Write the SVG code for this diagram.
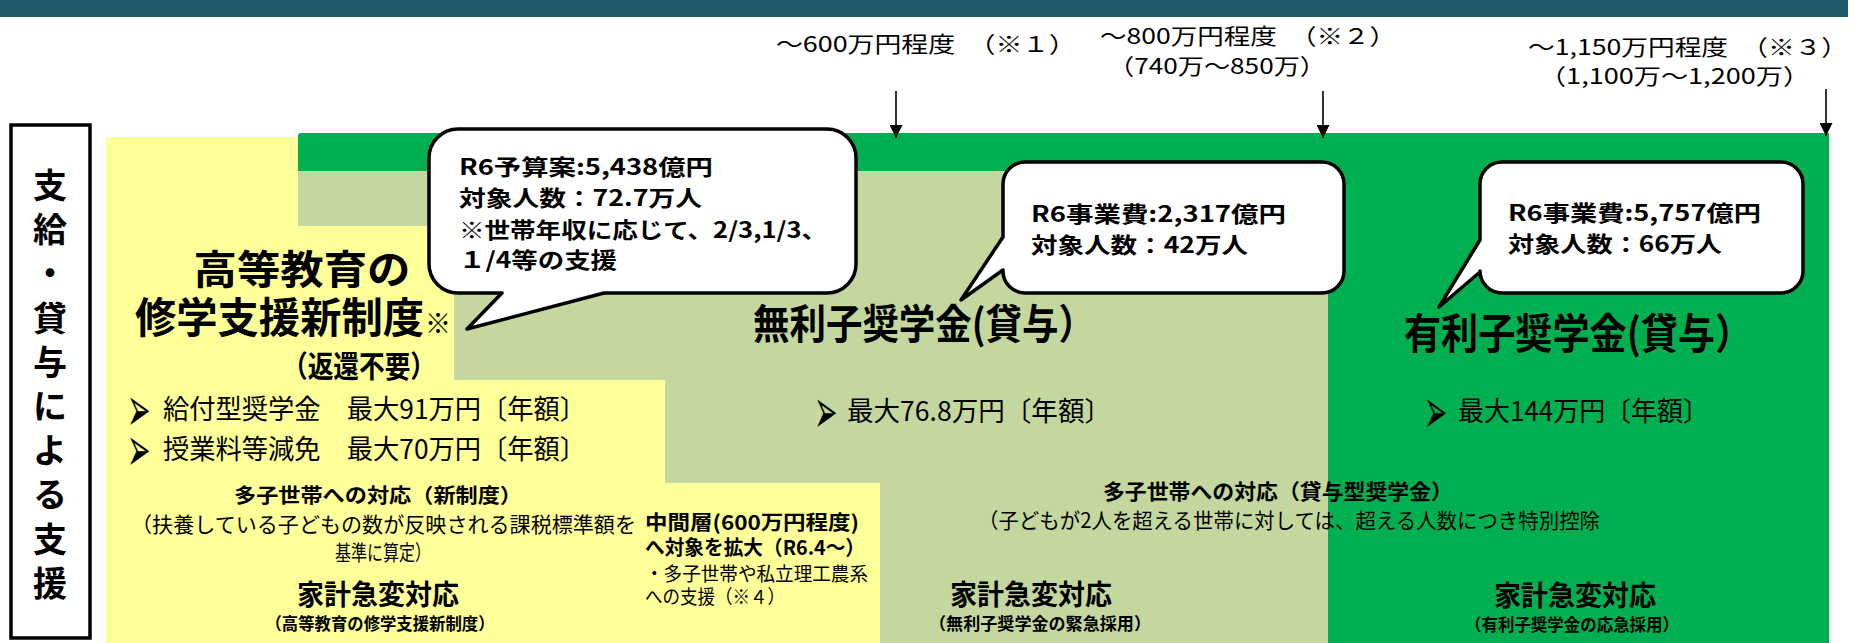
<svg xmlns="http://www.w3.org/2000/svg" width="1865" height="643" viewBox="0 0 1865 643">
<defs>
<style>
text{font-family:"Noto Sans CJK JP","Noto Sans",sans-serif;fill:#000}
.b{font-weight:bold}
.bub{fill:#fff;stroke:#000;stroke-width:3.5;stroke-linejoin:round}
.arr{stroke:#000;stroke-width:1.6;fill:none}
.bul{font-family:"DejaVu Sans",sans-serif;font-size:42px}
.lbl{font-size:22px}
.bt{font-size:22px;font-weight:bold}
</style>
<marker id="ah" viewBox="0 0 10 10" refX="10" refY="5" markerUnits="userSpaceOnUse" markerWidth="16" markerHeight="13" orient="auto">
<path d="M0,0 L10,5 L0,10 Z" fill="#000"/>
</marker>
</defs>
<rect x="0" y="0" width="1848" height="17" fill="#235a6b"/>

<g id="light-green-area">
<rect x="298" y="171" width="1030" height="472" fill="#c4d79e"/>
</g>
<g id="dark-green-area">
<path d="M301,133 H1829 V643 H1328 V171 H298 V136 Q298,133 301,133 Z" fill="#00b050"/>
</g>
<g id="yellow-area">
<path d="M106,137 H298 V226 H454 V380 H665 V483 H880 V643 H106 Z" fill="#ffff99"/>
</g>

<g id="side-label">
<rect x="11" y="125" width="79" height="513" fill="#fff" stroke="#000" stroke-width="3.5"/>
<text class="b" font-size="34" text-anchor="middle">
<tspan x="50" y="198">支</tspan><tspan x="50" y="242">給</tspan><tspan x="50" y="286">・</tspan><tspan x="50" y="331">貸</tspan><tspan x="50" y="375">与</tspan><tspan x="50" y="419">に</tspan><tspan x="50" y="463">よ</tspan><tspan x="50" y="507">る</tspan><tspan x="50" y="552">支</tspan><tspan x="50" y="596">援</tspan>
</text>
</g>

<g id="income-labels">
<text class="lbl" x="776" y="52" textLength="300" lengthAdjust="spacingAndGlyphs">～600万円程度　（※１）</text>
<text class="lbl" x="1100" y="44" textLength="296" lengthAdjust="spacingAndGlyphs">～800万円程度　（※２）</text>
<text class="lbl" x="1108" y="74" textLength="218" lengthAdjust="spacingAndGlyphs">（740万～850万）</text>
<text class="lbl" x="1528" y="55" textLength="320" lengthAdjust="spacingAndGlyphs">～1,150万円程度　（※３）</text>
<text class="lbl" x="1539" y="84" textLength="271" lengthAdjust="spacingAndGlyphs">（1,100万～1,200万）</text>
</g>

<g id="connectors">
<line class="arr" x1="896" y1="91" x2="896" y2="138" marker-end="url(#ah)"/>
<line class="arr" x1="1323" y1="91" x2="1323" y2="138" marker-end="url(#ah)"/>
<line class="arr" x1="1826" y1="89" x2="1826" y2="136" marker-end="url(#ah)"/>
</g>

<g id="kyufu">
<text class="b" font-size="40" x="302" y="284" text-anchor="middle" textLength="217" lengthAdjust="spacingAndGlyphs">高等教育の</text>
<text class="b" font-size="42" x="135" y="333" textLength="289" lengthAdjust="spacingAndGlyphs">修学支援新制度</text>
<text class="b" font-size="26" x="425" y="333">※</text>
<text class="b" font-size="30" x="282" y="377" textLength="154" lengthAdjust="spacingAndGlyphs">（返還不要）</text>
<text class="bul" transform="translate(127,431) scale(0.67,1.5)">➢</text>
<text font-size="27" x="163" y="419" textLength="423" lengthAdjust="spacingAndGlyphs">給付型奨学金　最大91万円〔年額〕</text>
<text class="bul" transform="translate(127,471) scale(0.67,1.5)">➢</text>
<text font-size="27" x="163" y="459" textLength="423" lengthAdjust="spacingAndGlyphs">授業料等減免　最大70万円〔年額〕</text>
<text class="b" font-size="20" x="378" y="503" text-anchor="middle" textLength="288" lengthAdjust="spacingAndGlyphs">多子世帯への対応（新制度）</text>
<text font-size="21" x="131" y="532" textLength="505" lengthAdjust="spacingAndGlyphs">（扶養している子どもの数が反映される課税標準額を</text>
<text font-size="21" x="383" y="560" text-anchor="middle" textLength="96" lengthAdjust="spacingAndGlyphs">基準に算定）</text>
<text class="b" font-size="28" x="378" y="605" text-anchor="middle" textLength="162" lengthAdjust="spacingAndGlyphs">家計急変対応</text>
<text class="b" font-size="17" x="380" y="630" text-anchor="middle" textLength="229" lengthAdjust="spacingAndGlyphs">（高等教育の修学支援新制度）</text>
<text class="b" font-size="20" x="645" y="530" textLength="214" lengthAdjust="spacingAndGlyphs">中間層(600万円程度)</text>
<text class="b" font-size="20" x="645" y="555" textLength="220" lengthAdjust="spacingAndGlyphs">へ対象を拡大（R6.4～）</text>
<text font-size="19" x="645" y="581" textLength="223" lengthAdjust="spacingAndGlyphs">・多子世帯や私立理工農系</text>
<text font-size="19" x="645" y="604" textLength="140" lengthAdjust="spacingAndGlyphs">への支援（※４）</text>
</g>

<g id="murishi">
<text class="b" font-size="41" x="753" y="339" textLength="342" lengthAdjust="spacingAndGlyphs">無利子奨学金(貸与）</text>
<text class="bul" transform="translate(814,433) scale(0.67,1.5)">➢</text>
<text font-size="27" x="847" y="421" textLength="264" lengthAdjust="spacingAndGlyphs">最大76.8万円〔年額〕</text>
<text class="b" font-size="21" x="1278" y="499" text-anchor="middle" textLength="350" lengthAdjust="spacingAndGlyphs">多子世帯への対応（貸与型奨学金）</text>
<text font-size="21" x="978" y="528" textLength="622" lengthAdjust="spacingAndGlyphs">（子どもが2人を超える世帯に対しては、超える人数につき特別控除</text>
<text class="b" font-size="28" x="1031" y="605" text-anchor="middle" textLength="162" lengthAdjust="spacingAndGlyphs">家計急変対応</text>
<text class="b" font-size="17" x="1040" y="630" text-anchor="middle" textLength="222" lengthAdjust="spacingAndGlyphs">（無利子奨学金の緊急採用）</text>
</g>

<g id="yurishi">
<text class="b" font-size="42" x="1404" y="349" textLength="348" lengthAdjust="spacingAndGlyphs">有利子奨学金(貸与）</text>
<text class="bul" transform="translate(1424,433) scale(0.67,1.5)">➢</text>
<text font-size="27" x="1458" y="421" textLength="251" lengthAdjust="spacingAndGlyphs">最大144万円〔年額〕</text>
<text class="b" font-size="28" x="1575" y="606" text-anchor="middle" textLength="162" lengthAdjust="spacingAndGlyphs">家計急変対応</text>
<text class="b" font-size="17" x="1572" y="631" text-anchor="middle" textLength="214" lengthAdjust="spacingAndGlyphs">（有利子奨学金の応急採用）</text>
</g>

<g id="bubble-kyufu">
<path class="bub" d="M458,129 H827 A29,29 0 0 1 856,158 V264 A29,29 0 0 1 827,293 H604 L467,329 L502,293 H458 A29,29 0 0 1 429,264 V158 A29,29 0 0 1 458,129 Z"/>
<text class="bt" x="459" y="175" textLength="254" lengthAdjust="spacingAndGlyphs">R6予算案:5,438億円</text>
<text class="bt" x="459" y="206" textLength="243" lengthAdjust="spacingAndGlyphs">対象人数：72.7万人</text>
<text class="bt" x="459" y="238" textLength="368" lengthAdjust="spacingAndGlyphs">※世帯年収に応じて、2/3,1/3、</text>
<text class="bt" x="459" y="268" textLength="158" lengthAdjust="spacingAndGlyphs">１/4等の支援</text>
</g>

<g id="bubble-murishi">
<path class="bub" d="M1025,162 H1322 A22,22 0 0 1 1344,184 V271 A22,22 0 0 1 1322,293 H1025 A22,22 0 0 1 1003,271 V270 L961,300 L1003,237 V184 A22,22 0 0 1 1025,162 Z"/>
<text class="bt" x="1031" y="222" textLength="255" lengthAdjust="spacingAndGlyphs">R6事業費:2,317億円</text>
<text class="bt" x="1031" y="253" textLength="217" lengthAdjust="spacingAndGlyphs">対象人数：42万人</text>
</g>

<g id="bubble-yurishi">
<path class="bub" d="M1502,162 H1781 A22,22 0 0 1 1803,184 V271 A22,22 0 0 1 1781,293 H1502 A22,22 0 0 1 1480,271 V272 L1439,307 L1480,240 V184 A22,22 0 0 1 1502,162 Z"/>
<text class="bt" x="1508" y="221" textLength="253" lengthAdjust="spacingAndGlyphs">R6事業費:5,757億円</text>
<text class="bt" x="1508" y="252" textLength="214" lengthAdjust="spacingAndGlyphs">対象人数：66万人</text>
</g>
</svg>
